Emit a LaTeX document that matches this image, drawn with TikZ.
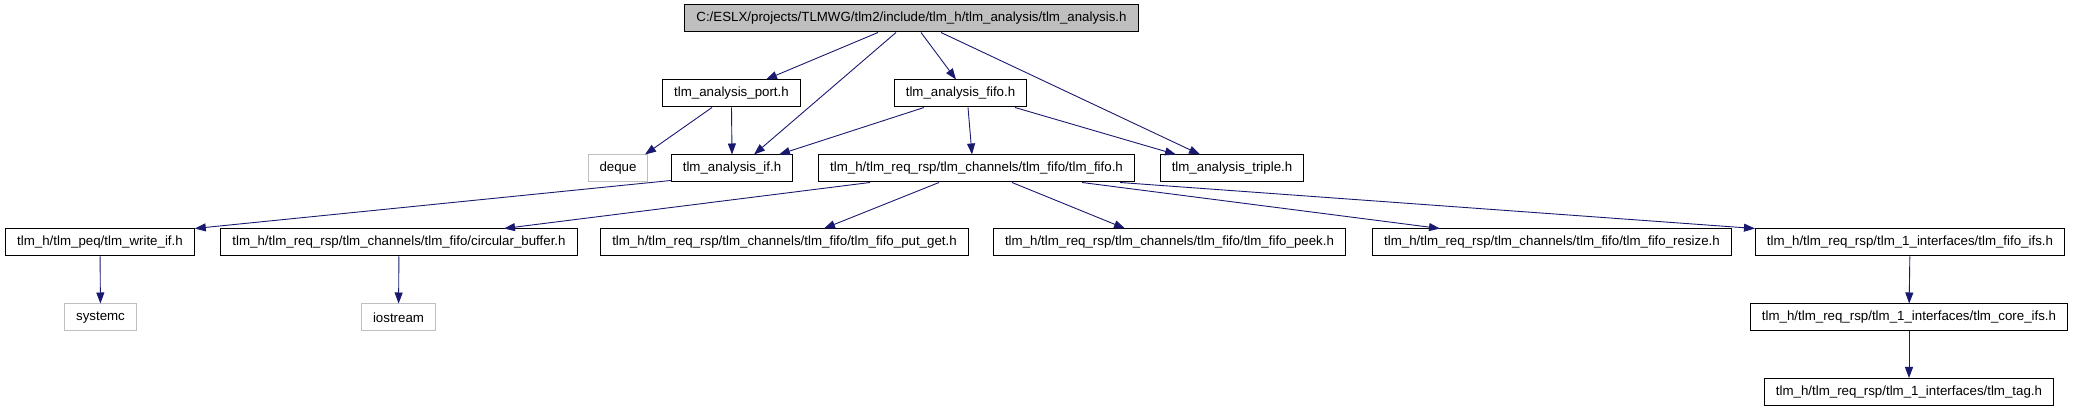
\documentclass[tikz,border=0pt]{standalone}
\usepackage{fontspec}
\setmainfont{Liberation Sans}
\usetikzlibrary{arrows.meta}
\definecolor{edgeblue}{HTML}{191970}
\definecolor{boxgray}{HTML}{BFBFBF}

\begin{document}
\begin{tikzpicture}[
  x=1pt, y=-1pt,
  every node/.style={
    draw,
    rectangle,
    line width=1pt,
    minimum height=27pt,
    inner xsep=11.5pt,
    inner ysep=0pt,
    font=\fontsize{13.3}{15}\selectfont
  },
  sysbox/.style={draw=boxgray},
  dep/.style={edgeblue, line width=0.9pt, -{Triangle[length=11pt,width=8pt]}}
]
  \useasboundingbox (0,0) rectangle (2073,411);

  \node[fill=boxgray] (root) at (911.5,18.5) {C:/ESLX/projects/TLMWG/tlm2/include/tlm\_h/tlm\_analysis/tlm\_analysis.h};

  \node (port) at (731.5,93.5) {tlm\_analysis\_port.h};
  \node (fifo) at (960.5,93.5) {tlm\_analysis\_fifo.h};

  \node[sysbox] (deque) at (618,168.5) {deque};
  \node (aif)     at (732,168.5)   {tlm\_analysis\_if.h};
  \node (tlmfifo) at (976.5,168.5) {tlm\_h/tlm\_req\_rsp/tlm\_channels/tlm\_fifo/tlm\_fifo.h};
  \node (triple)  at (1232,168.5)  {tlm\_analysis\_triple.h};

  \node (writeif) at (100,242.5)   {tlm\_h/tlm\_peq/tlm\_write\_if.h};
  \node (circbuf) at (399,242.5)   {tlm\_h/tlm\_req\_rsp/tlm\_channels/tlm\_fifo/circular\_buffer.h};
  \node (putget)  at (784.5,242.5) {tlm\_h/tlm\_req\_rsp/tlm\_channels/tlm\_fifo/tlm\_fifo\_put\_get.h};
  \node (peek)    at (1169.5,242.5) {tlm\_h/tlm\_req\_rsp/tlm\_channels/tlm\_fifo/tlm\_fifo\_peek.h};
  \node (resize)  at (1552,242.5)  {tlm\_h/tlm\_req\_rsp/tlm\_channels/tlm\_fifo/tlm\_fifo\_resize.h};
  \node (fifoifs) at (1910,242.5)  {tlm\_h/tlm\_req\_rsp/tlm\_1\_interfaces/tlm\_fifo\_ifs.h};

  \node[sysbox] (systemc)  at (100.5,317.5) {systemc};
  \node[sysbox] (iostream) at (398.5,317.5) {iostream};
  \node (coreifs) at (1909,317.5) {tlm\_h/tlm\_req\_rsp/tlm\_1\_interfaces/tlm\_core\_ifs.h};

  \node (tag) at (1909,392) {tlm\_h/tlm\_req\_rsp/tlm\_1\_interfaces/tlm\_tag.h};

  \draw[dep] ([xshift=-33.5pt]root.south) -- ([xshift=34.5pt]port.north);
  \draw[dep] ([xshift=-15.5pt]root.south) -- ([xshift=22pt]aif.north);
  \draw[dep] ([xshift=9.5pt]root.south) -- ([xshift=-4.5pt]fifo.north);
  \draw[dep] ([xshift=29.5pt]root.south) -- ([xshift=-32pt]triple.north);

  \draw[dep] ([xshift=-19.5pt]port.south) -- ([xshift=27pt]deque.north);
  \draw[dep] (port.south) -- (aif.north);

  \draw[dep] ([xshift=-36.5pt]fifo.south) -- ([xshift=47pt]aif.north);
  \draw[dep] ([xshift=7.5pt]fifo.south) -- ([xshift=-4.5pt]tlmfifo.north);
  \draw[dep] ([xshift=54.5pt]fifo.south) -- ([xshift=-56pt]triple.north);

  \draw[dep] ([yshift=2pt]aif.south west) -- (writeif.north east);

  \draw[dep] ([xshift=-106.5pt]tlmfifo.south) -- ([xshift=105pt]circbuf.north);
  \draw[dep] ([xshift=-37.5pt]tlmfifo.south) -- ([xshift=39.5pt]putget.north);
  \draw[dep] ([xshift=35.5pt]tlmfifo.south) -- ([xshift=-44.5pt]peek.north);
  \draw[dep] ([xshift=105.5pt]tlmfifo.south) -- ([xshift=-112pt]resize.north);
  \draw[dep] ([xshift=143.5pt]tlmfifo.south) -- (fifoifs.north west);

  \draw[dep] (writeif) -- (systemc);
  \draw[dep] (circbuf) -- (iostream);
  \draw[dep] (fifoifs) -- (coreifs);
  \draw[dep] (coreifs) -- (tag);
\end{tikzpicture}
\end{document}
